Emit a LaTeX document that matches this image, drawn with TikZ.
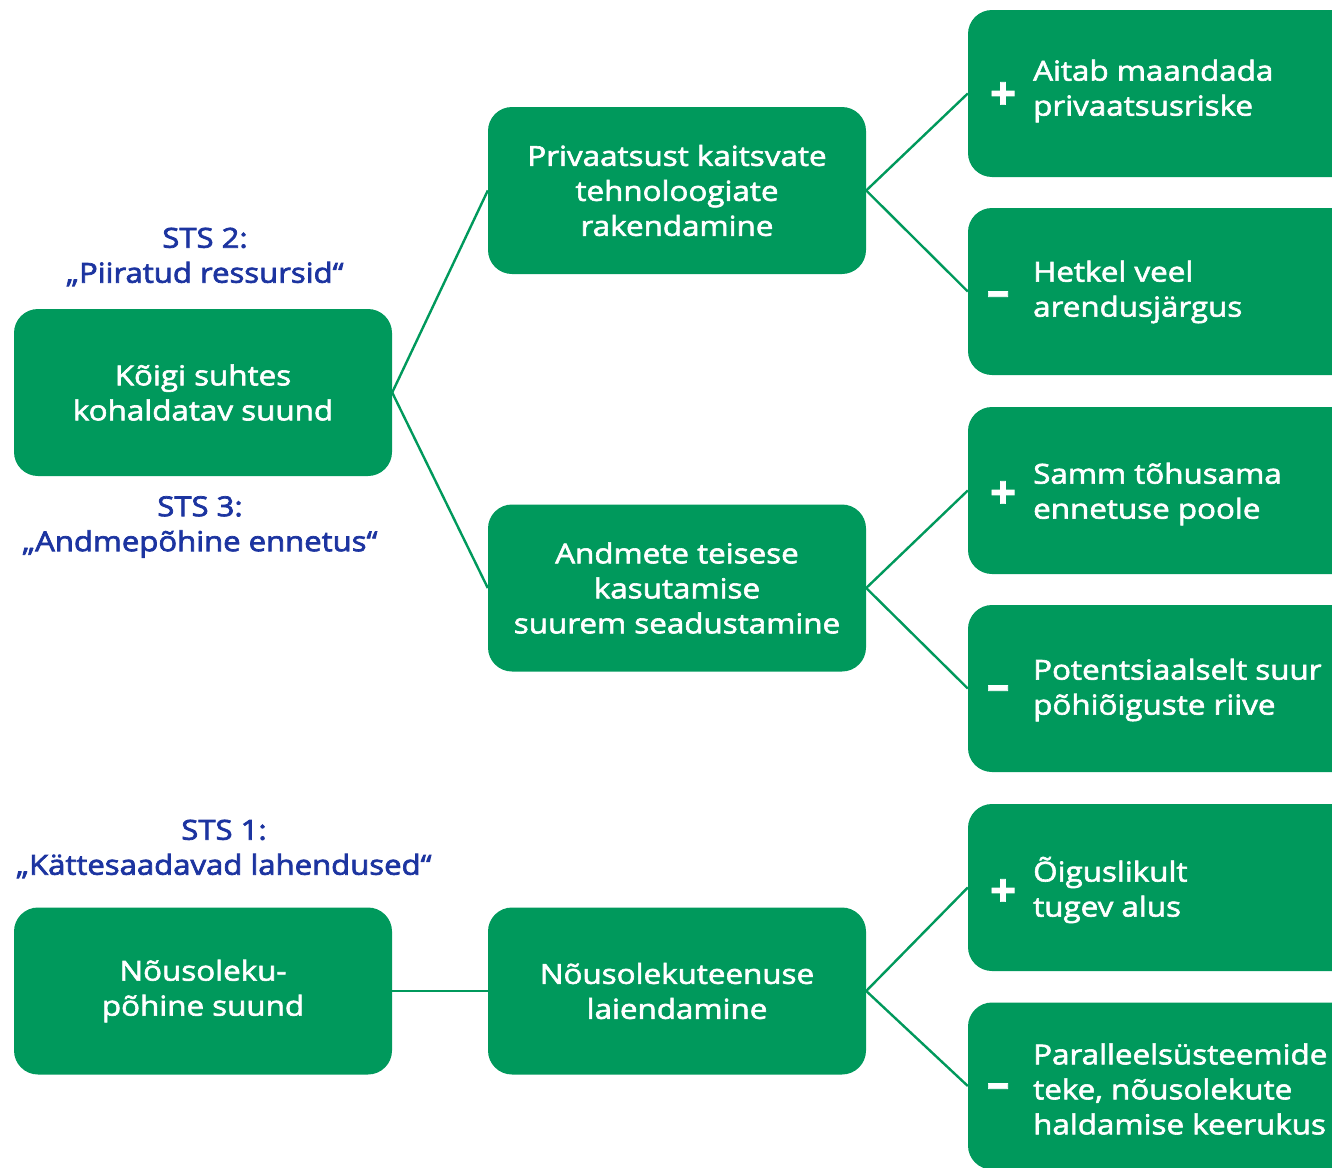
\documentclass[tikz,border=0pt]{standalone}
\usepackage{fontspec}
\setmainfont{Open Sans}
\newfontfamily\boxfont[FakeBold=2.2,FakeStretch=1.14]{Open Sans}
\newfontfamily\stsfont[FakeBold=2.6,FakeStretch=1.13]{Open Sans}
\newfontfamily\signfont[FakeBold=1.5]{Open Sans Bold}
\definecolor{boxgreen}{RGB}{0,153,92}
\definecolor{stsblue}{RGB}{28,52,160}
\begin{document}
\begin{tikzpicture}[x=1pt,y=-1pt,
  box/.style={fill=boxgreen, rounded corners=24pt, minimum width=378pt, minimum height=167pt, inner sep=0pt,
    text=white, align=center, font=\boxfont\fontsize{27.5}{35}\selectfont},
  rbox/.style={fill=boxgreen, rounded corners=24pt, minimum width=400pt, minimum height=167pt, inner sep=0pt},
  rtext/.style={text=white, anchor=west, align=left, font=\boxfont\fontsize{27.5}{35}\selectfont, inner sep=0pt},
  sign/.style={text=white, font=\signfont\fontsize{46}{46}\selectfont, inner sep=0pt},
  sts/.style={text=stsblue, align=center, font=\stsfont\fontsize{27.5}{35}\selectfont},
  conn/.style={draw=boxgreen, line width=2.4pt}]
\useasboundingbox (0,0) rectangle (1332,1167);
\clip (0,0) rectangle (1332,1167);
% left boxes
\node[box] (L1) at (203,392.5) {Kõigi suhtes\\kohaldatav suund};
\node[box] (L2) at (203,991) {Nõusoleku-\\põhine suund};
% middle boxes
\node[box] (M1) at (677,190.5) {Privaatsust kaitsvate\\tehnoloogiate\\rakendamine};
\node[box] (M2) at (677,588) {Andmete teisese\\kasutamise\\suurem seadustamine};
\node[box] (M3) at (677,991) {Nõusolekuteenuse\\laiendamine};
% right boxes
\node[rbox] (R1) at (1168,93.5) {};
\node[rbox] (R2) at (1168,291.5) {};
\node[rbox] (R3) at (1168,490.5) {};
\node[rbox] (R4) at (1168,688.5) {};
\node[rbox] (R5) at (1168,887.5) {};
\node[rbox] (R6) at (1168,1086) {};
% right texts
\node[sign] (S1) at (1003,96) {+};
\node[rtext] (T1) at (1033,91) {Aitab maandada\\privaatsusriske};
\node[sign] (S2) at (998,299) {–};
\node[rtext] (T2) at (1033,292) {Hetkel veel\\arendusjärgus};
\node[sign] (S3) at (1003,495) {+};
\node[rtext] (T3) at (1033,494) {Samm tõhusama\\ennetuse poole};
\node[sign] (S4) at (998,693) {–};
\node[rtext] (T4) at (1033,690) {Potentsiaalselt suur\\põhiõiguste riive};
\node[sign] (S5) at (1003,893) {+};
\node[rtext] (T5) at (1033,890) {Õiguslikult\\tugev alus};
\node[sign] (S6) at (998,1091) {–};
\node[rtext] (T6) at (1033,1089) {Paralleelsüsteemide\\teke, nõusolekute\\haldamise keerukus};
% STS labels
\node[sts] (STS2) at (205,257) {STS 2:\\„Piiratud ressursid“};
\node[sts] (STS3) at (200,527) {STS 3:\\„Andmepõhine ennetus“};
\node[sts] (STS1) at (224,849) {STS 1:\\„Kättesaadavad lahendused“};
% connectors
\draw[conn] (L1.east) -- (M1.west);
\draw[conn] (L1.east) -- (M2.west);
\draw[conn] (L2.east) -- (M3.west);
\draw[conn] (M1.east) -- (R1.west);
\draw[conn] (M1.east) -- (R2.west);
\draw[conn] (M2.east) -- (R3.west);
\draw[conn] (M2.east) -- (R4.west);
\draw[conn] (M3.east) -- (R5.west);
\draw[conn] (M3.east) -- (R6.west);
\end{tikzpicture}
\end{document}
